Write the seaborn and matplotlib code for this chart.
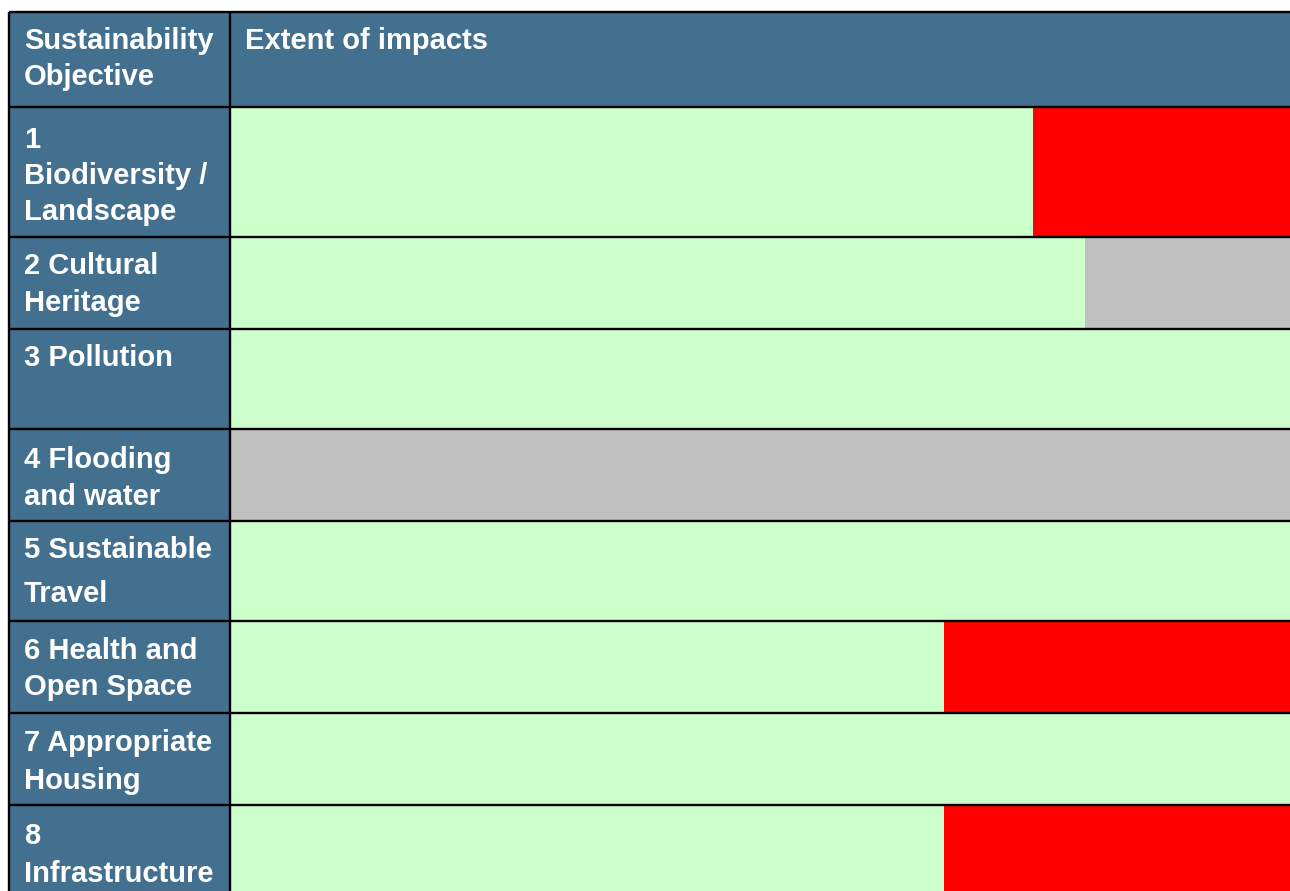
import matplotlib.pyplot as plt
from matplotlib.patches import Rectangle
import pandas as pd
import seaborn as sns

# --- data ---------------------------------------------------------------
objectives = [
    "1\nBiodiversity /\nLandscape",
    "2 Cultural\nHeritage",
    "3 Pollution",
    "4 Flooding\nand water",
    "5 Sustainable\nTravel",
    "6 Health and\nOpen Space",
    "7 Appropriate\nHousing",
    "8\nInfrastructure",
]
green = [75.8, 80.7, 100, 0, 100, 67.4, 100, 67.4]
red = [24.2, 0, 0, 0, 0, 32.6, 0, 32.6]
grey = [0, 19.3, 0, 100, 0, 0, 0, 0]
header_labels = ["Sustainability\nObjective", "Extent of impacts"]

# --- layout (figure pixels) ---------------------------------------------
W, H = 1290, 891
table_left, col_split, table_top, header_bottom = 9, 230, 12, 107
row_edges = [107, 237, 329, 429, 521, 621, 713, 805, 897]
label_tops = [126, 252, 344, 446, 536, 637, 729, 822]
label_spacing = [1.37, 1.4, 1.37, 1.4, 1.74, 1.37, 1.45, 1.44]

BLUE = "#44708F"
GREEN = "#CCFFCC"
RED = "#FF0000"
GREY = "#C0C0C0"

sns.set_theme(style="white")
plt.rcParams["font.family"] = ["Liberation Sans", "DejaVu Sans"]

df = pd.DataFrame({"objective": objectives, "green": green, "red": red, "grey": grey})
df["to_red"] = df["green"] + df["red"]
df["to_grey"] = df["to_red"] + df["grey"]

fig = plt.figure(figsize=(W / 100, H / 100), dpi=100)
ax = fig.add_axes([col_split / W, 0, (W - col_split) / W, (H - header_bottom) / H])

# stacked bars: draw cumulative totals back to front
for col, colour in [("to_grey", GREY), ("to_red", RED), ("green", GREEN)]:
    sns.barplot(
        data=df,
        y="objective",
        x=col,
        color=colour,
        width=1,
        errorbar=None,
        saturation=1,
        linewidth=0,
        ax=ax,
    )

# give each row the height of its table row
n = len(objectives)
for i, bar in enumerate(ax.patches):
    row = i % n
    bar.set_y(row_edges[row])
    bar.set_height(row_edges[row + 1] - row_edges[row])

ax.set_xlim(0, 100)
ax.set_ylim(H, header_bottom)
ax.axis("off")

# table frame, header, label column
frame = fig.add_axes([0, 0, 1, 1], zorder=3)
frame.set_xlim(0, W)
frame.set_ylim(H, 0)
frame.axis("off")

frame.add_patch(Rectangle((table_left, table_top), W - table_left,
                          header_bottom - table_top, color=BLUE, lw=0))
frame.add_patch(Rectangle((table_left, header_bottom), col_split - table_left,
                          H - header_bottom, color=BLUE, lw=0))

frame.hlines([table_top] + row_edges[:-1], table_left, W, color="black", lw=1.7)
frame.vlines([table_left, col_split], table_top, H, color="black", lw=1.7)

txt = dict(color="white", fontsize=21, fontweight="bold", va="top", ha="left")
frame.text(24, 27, header_labels[0], linespacing=1.37, **txt)
frame.text(245, 27, header_labels[1], **txt)
for label, top, ls in zip(objectives, label_tops, label_spacing):
    frame.text(24, top, label, linespacing=ls, **txt)

fig.savefig("out.png", dpi=100)
